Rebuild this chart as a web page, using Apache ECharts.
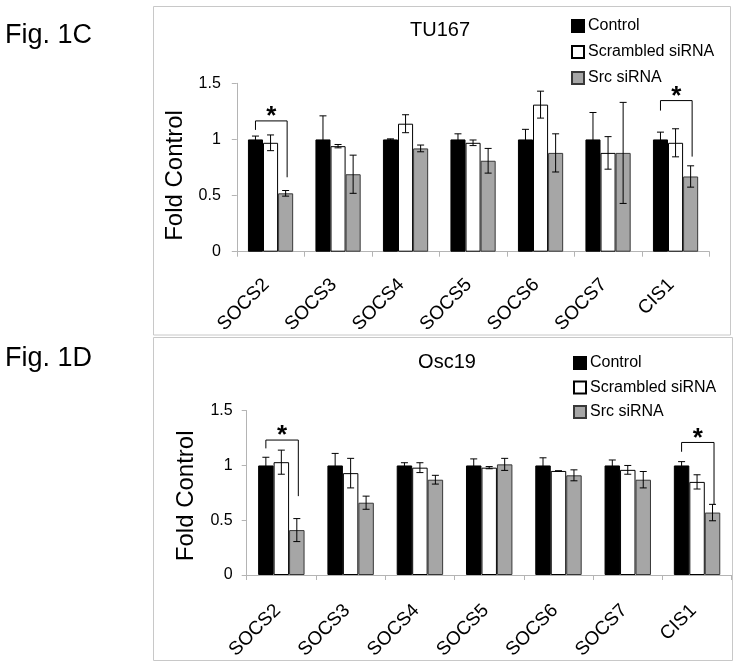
<!DOCTYPE html>
<html>
<head>
<meta charset="utf-8">
<script src="https://cdn.jsdelivr.net/npm/echarts@6/dist/echarts.min.js"></script>
<style>html,body{margin:0;padding:0;background:#fff;}#c{width:739px;height:668px;}</style>
</head>
<body>
<div id="c"></div>
<script>
const categories = ['SOCS2','SOCS3','SOCS4','SOCS5','SOCS6','SOCS7','CIS1'];
const seriesNames = ['Control','Scrambled siRNA','Src siRNA'];
const yTicks = [0, 0.5, 1, 1.5];

const tu167Control = [1, 1, 1, 1, 1, 1, 1];
const tu167ControlErr = [0.03, 0.21, 0.005, 0.05, 0.09, 0.24, 0.065];
const tu167Scrambled = [0.97, 0.94, 1.14, 0.97, 1.31, 0.88, 0.97];
const tu167ScrambledErr = [0.07, 0.015, 0.08, 0.025, 0.12, 0.145, 0.125];
const tu167Src = [0.52, 0.69, 0.92, 0.81, 0.88, 0.88, 0.67];
const tu167SrcErr = [0.025, 0.17, 0.03, 0.11, 0.17, 0.45, 0.095];

const osc19Control = [1, 1, 1, 1, 1, 1, 1];
const osc19ControlErr = [0.075, 0.11, 0.025, 0.06, 0.07, 0.05, 0.035];
const osc19Scrambled = [1.03, 0.93, 0.98, 0.98, 0.95, 0.96, 0.85];
const osc19ScrambledErr = [0.11, 0.135, 0.045, 0.01, 0, 0.04, 0.065];
const osc19Src = [0.41, 0.66, 0.87, 1.01, 0.91, 0.87, 0.57];
const osc19SrcErr = [0.105, 0.06, 0.04, 0.055, 0.05, 0.075, 0.075];

// significance brackets: category index, bracket top, left leg end, right leg end
const tu167SigCats = [0, 6];
const tu167SigTop = [1.165, 1.346];
const tu167SigLeft = [1.085, 1.257];
const tu167SigRight = [0.663, 0.847];
const osc19SigCats = [0, 6];
const osc19SigTop = [1.232, 1.21];
const osc19SigLeft = [1.156, 1.125];
const osc19SigRight = [0.72, 0.64];

const FONT = 'Liberation Sans, Arial, sans-serif';
const GAP = 0.33;
const barColors = ['#000000', '#ffffff', '#a6a6a6'];
const barBorders = ['#000000', '#000000', '#383838'];

function barOffset(band, k) { return k * band * (1 - GAP) / 3; }

function errSeries(gi, k, vals, errs) {
  return {
    type: 'custom', xAxisIndex: gi, yAxisIndex: gi, z: 10, silent: true,
    data: vals.map((v, i) => [i, v, errs[i]]),
    encode: { x: 0, y: 1 },
    renderItem: function (params, api) {
      const c = api.value(0), v = api.value(1), e = api.value(2);
      const band = api.size([1, 0])[0];
      const x = api.coord([c, v])[0] + barOffset(band, k);
      const yT = api.coord([c, v + e])[1], yB = api.coord([c, v - e])[1];
      const h = 3.5;
      const st = { stroke: '#000', lineWidth: 1 };
      return { type: 'group', children: [
        { type: 'line', shape: { x1: x, y1: yT, x2: x, y2: yB }, style: st },
        { type: 'line', shape: { x1: x - h, y1: yT, x2: x + h, y2: yT }, style: st },
        { type: 'line', shape: { x1: x - h, y1: yB, x2: x + h, y2: yB }, style: st }
      ]};
    }
  };
}

function sigSeries(gi, cats, tops, lefts, rights) {
  return {
    type: 'custom', xAxisIndex: gi, yAxisIndex: gi, z: 11, silent: true,
    data: cats.map((c, i) => [c, tops[i], lefts[i], rights[i]]),
    encode: { x: 0, y: 1 },
    renderItem: function (params, api) {
      const c = api.value(0);
      const band = api.size([1, 0])[0];
      const cx = api.coord([c, 0])[0];
      const xl = cx + barOffset(band, -1);
      const xr = cx + barOffset(band, 1) + 1.5;
      const yt = api.coord([c, api.value(1)])[1];
      const yl = api.coord([c, api.value(2)])[1];
      const yr = api.coord([c, api.value(3)])[1];
      const st = { stroke: '#000', lineWidth: 1, fill: null };
      return { type: 'group', children: [
        { type: 'polyline', shape: { points: [[xl, yl], [xl, yt], [xr, yt], [xr, yr]] }, style: st },
        { type: 'text', style: { text: '*', x: (xl + xr) / 2, y: yt + 9, textAlign: 'center', textVerticalAlign: 'bottom',
          font: 'bold 26px ' + FONT, fill: '#000' } }
      ]};
    }
  };
}

function barSeries(gi, k, vals) {
  return {
    name: seriesNames[k + 1], type: 'bar', xAxisIndex: gi, yAxisIndex: gi,
    data: vals, barGap: '0%', barCategoryGap: (GAP * 100) + '%',
    itemStyle: { color: barColors[k + 1], borderColor: barBorders[k + 1], borderWidth: 1 },
    emphasis: { disabled: true }
  };
}

const axisGray = '#b4b4b4';
function xAxisCfg(gi, margin, padRight) {
  return {
    type: 'category', gridIndex: gi, data: categories,
    axisLine: { lineStyle: { color: axisGray } },
    axisTick: { show: true, length: 5, lineStyle: { color: axisGray } },
    axisLabel: { rotate: 45, margin: margin, color: '#000', fontSize: 19, fontFamily: FONT, interval: 0, padding: [0, padRight, 0, 0] }
  };
}
function yAxisCfg(gi, margin, nameGap, namePad) {
  return {
    type: 'value', gridIndex: gi, min: yTicks[0], max: yTicks[yTicks.length - 1], interval: 0.5,
    axisLine: { show: true, lineStyle: { color: axisGray } },
    axisTick: { show: true, length: 5, lineStyle: { color: axisGray } },
    splitLine: { show: false },
    axisLabel: { color: '#000', fontSize: 16, fontFamily: FONT, margin: margin },
    name: 'Fold Control', nameLocation: 'middle', nameRotate: 90, nameGap: nameGap,
    nameTextStyle: { color: '#000', fontSize: 24, fontFamily: FONT, padding: [0, namePad, 0, 0] }
  };
}

const chart = echarts.init(document.getElementById('c'), null, { renderer: 'canvas' });
chart.setOption({
  backgroundColor: '#fff',
  animation: false,
  graphic: [
    { type: 'rect', shape: { x: 153.5, y: 6.5, width: 577, height: 328.5 }, style: { fill: null, stroke: '#c8c8c8', lineWidth: 1 }, z: -1 },
    { type: 'rect', shape: { x: 153.5, y: 337.5, width: 579, height: 323 }, style: { fill: null, stroke: '#c8c8c8', lineWidth: 1 }, z: -1 },
    { type: 'text', left: 5, top: 22, style: { text: 'Fig. 1C', font: '27px ' + FONT, fill: '#000' } },
    { type: 'text', left: 5, top: 345, style: { text: 'Fig. 1D', font: '27px ' + FONT, fill: '#000' } },
    { type: 'text', x: 440, y: 30, style: { text: 'TU167', font: '20px ' + FONT, fill: '#000', textAlign: 'center', textVerticalAlign: 'middle' } },
    { type: 'text', x: 447, y: 362, style: { text: 'Osc19', font: '20px ' + FONT, fill: '#000', textAlign: 'center', textVerticalAlign: 'middle' } }
  ],
  legend: [
    { left: 571, top: 18, padding: 0, orient: 'vertical', itemWidth: 12, itemHeight: 12, itemGap: 10, icon: 'rect',
      data: seriesNames, textStyle: { fontSize: 16, fontFamily: FONT, color: '#000', lineHeight: 16, padding: [0, 0, 0, -1] }, selectedMode: false },
    { left: 573, top: 355, padding: 0, orient: 'vertical', itemWidth: 12, itemHeight: 12, itemGap: 8.5, icon: 'rect',
      data: seriesNames, textStyle: { fontSize: 16, fontFamily: FONT, color: '#000', lineHeight: 16, padding: [0, 0, 0, -1] }, selectedMode: false }
  ],
  grid: [
    { left: 236.8, right: 29.7, top: 83.3, bottom: 416.3 },
    { left: 246.7, right: 7.3, top: 410.7, bottom: 93 }
  ],
  xAxis: [xAxisCfg(0, 26, 6), xAxisCfg(1, 29, 5)],
  yAxis: [yAxisCfg(0, 16, 46, 16), yAxisCfg(1, 14, 48, 6)],
  series: [
    barSeries(0, -1, tu167Control), barSeries(0, 0, tu167Scrambled), barSeries(0, 1, tu167Src),
    errSeries(0, -1, tu167Control, tu167ControlErr), errSeries(0, 0, tu167Scrambled, tu167ScrambledErr), errSeries(0, 1, tu167Src, tu167SrcErr),
    sigSeries(0, tu167SigCats, tu167SigTop, tu167SigLeft, tu167SigRight),
    barSeries(1, -1, osc19Control), barSeries(1, 0, osc19Scrambled), barSeries(1, 1, osc19Src),
    errSeries(1, -1, osc19Control, osc19ControlErr), errSeries(1, 0, osc19Scrambled, osc19ScrambledErr), errSeries(1, 1, osc19Src, osc19SrcErr),
    sigSeries(1, osc19SigCats, osc19SigTop, osc19SigLeft, osc19SigRight)
  ]
});
</script>
</body>
</html>
